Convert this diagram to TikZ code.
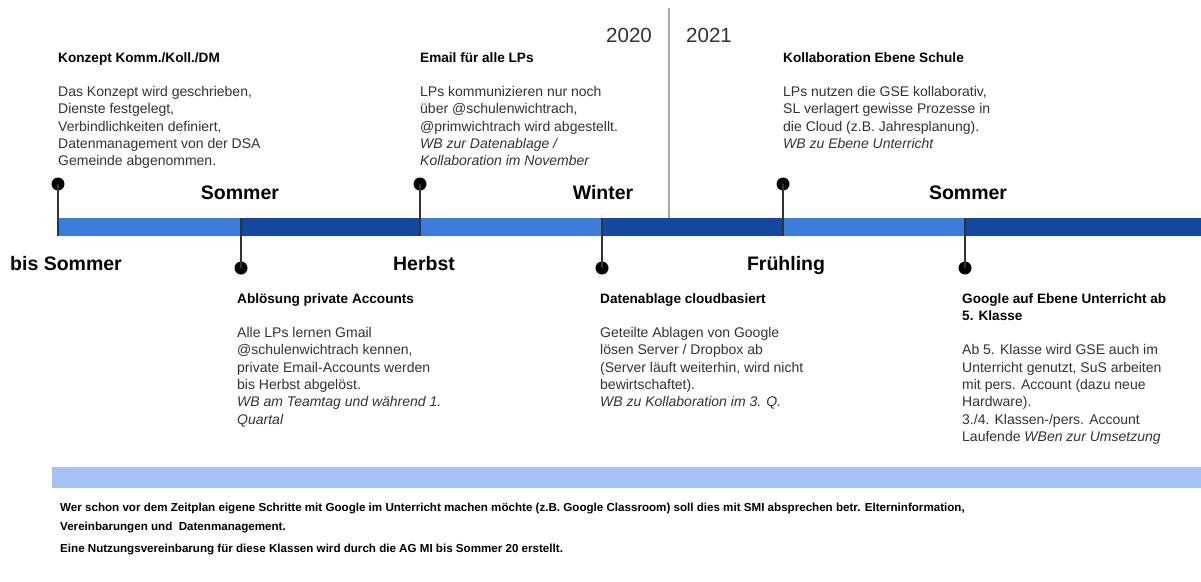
\documentclass[tikz,border=0pt]{standalone}
\usepackage{fontspec}
\setmainfont{Liberation Sans}
\definecolor{barlight}{HTML}{3B7DDD}
\definecolor{bardark}{HTML}{1348A0}
\definecolor{barpale}{HTML}{A4C2F4}
\definecolor{bodygray}{HTML}{333333}
\definecolor{divgray}{HTML}{A8A8A8}
\begin{document}
\begin{tikzpicture}[x=1pt,y=-1pt,
  blk/.style={anchor=north west,inner sep=0pt,align=left,text=bodygray,
    font=\fontsize{14}{17.3}\selectfont},
  ssn/.style={anchor=base,inner sep=0pt,font=\fontsize{19.5}{22}\selectfont\bfseries,text=black},
  yr/.style={inner sep=0pt,font=\fontsize{20.5}{22}\selectfont,text=bodygray},
  dotm/.style={circle,fill=black,inner sep=0pt,minimum size=13pt},
  stem/.style={draw=bodygray,line width=1.4pt},
  note/.style={anchor=north west,inner sep=0pt,align=left,text=black,
    font=\fontsize{11.6}{19.5}\selectfont\bfseries}]
\newcommand{\ttl}[1]{{\fontsize{13.6}{17.3}\selectfont\bfseries\color{black}#1}}
\useasboundingbox (0,0) rectangle (1201,581);
\fill[white] (0,0) rectangle (1201,581);
% main bar
\fill[barlight] (58,218) rectangle (241,236);
\fill[bardark] (241,218) rectangle (420,236);
\fill[barlight] (420,218) rectangle (602,236);
\fill[bardark] (602,218) rectangle (783,236);
\fill[barlight] (783,218) rectangle (965,236);
\fill[bardark] (965,218) rectangle (1201,236);
% pale bar
\fill[barpale] (52,467) rectangle (1201,488);
% year divider
\coordinate (ytop) at (669,8);
\coordinate (ybot) at (669,218);
\draw[divgray,line width=2pt] (ytop) -- (ybot);
\node[yr,anchor=base east] (y20) at (652,42) {2020};
\node[yr,anchor=base west] (y21) at (686,42) {2021};
% bar anchor coordinates
\coordinate (b1) at (58,236);
\coordinate (b2) at (241,218);
\coordinate (b3) at (420,236);
\coordinate (b4) at (602,218);
\coordinate (b5) at (783,236);
\coordinate (b6) at (965,218);
% dots
\node[dotm] (d1) at (58,184) {};
\node[dotm] (d2) at (241,268) {};
\node[dotm] (d3) at (420,184) {};
\node[dotm] (d4) at (602,268) {};
\node[dotm] (d5) at (783,184) {};
\node[dotm] (d6) at (965,268) {};
\draw[stem] (d1.center) -- (b1);
\draw[stem] (d2.center) -- (b2);
\draw[stem] (d3.center) -- (b3);
\draw[stem] (d4.center) -- (b4);
\draw[stem] (d5.center) -- (b5);
\draw[stem] (d6.center) -- (b6);
% seasons
\node[ssn] (s1) at (240,199) {Sommer};
\node[ssn] (s2) at (603,199) {Winter};
\node[ssn] (s3) at (968,199) {Sommer};
\node[ssn,anchor=base west] (s4) at (10,270) {bis Sommer};
\node[ssn] (s5) at (424,270) {Herbst};
\node[ssn] (s6) at (786,270) {Frühling};
% top blocks
\node[blk] (t1) at (58,52) {\ttl{Konzept Komm./Koll./DM}\\[17.3pt]
Das Konzept wird geschrieben,\\ Dienste festgelegt,\\ Verbindlichkeiten definiert,\\
Datenmanagement von der DSA\\ Gemeinde abgenommen.};
\node[blk] (t2) at (420,52) {\ttl{Email für alle LPs}\\[17.3pt]
LPs kommunizieren nur noch\\ über @schulenwichtrach,\\ @primwichtrach wird abgestellt.\\
\textit{WB zur Datenablage /}\\ \textit{Kollaboration im November}};
\node[blk] (t3) at (783,52) {\ttl{Kollaboration Ebene Schule}\\[17.3pt]
LPs nutzen die GSE kollaborativ,\\ SL verlagert gewisse Prozesse in\\
die Cloud (z.B. Jahresplanung).\\ \textit{WB zu Ebene Unterricht}};
% bottom blocks
\node[blk] (u1) at (237,293) {\ttl{Ablösung private Accounts}\\[17.3pt]
Alle LPs lernen Gmail\\ @schulenwichtrach kennen,\\ private Email-Accounts werden\\
bis Herbst abgelöst.\\ \textit{WB am Teamtag und während 1.}\\ \textit{Quartal}};
\node[blk] (u2) at (600,293) {\ttl{Datenablage cloudbasiert}\\[17.3pt]
Geteilte Ablagen von Google\\ lösen Server / Dropbox ab\\
(Server läuft weiterhin, wird nicht\\ bewirtschaftet).\\ \textit{WB zu Kollaboration im 3. Q.}};
\node[blk] (u3) at (962,293) {\ttl{Google auf Ebene Unterricht ab}\\ \ttl{5. Klasse}\\[17.3pt]
Ab 5. Klasse wird GSE auch im\\ Unterricht genutzt, SuS arbeiten\\ mit pers. Account (dazu neue\\
Hardware).\\ 3./4. Klassen-/pers. Account\\ Laufende \textit{WBen zur Umsetzung}};
% notes
\node[note] (n1) at (60,502.5) {Wer schon vor dem Zeitplan eigene Schritte mit Google im Unterricht machen möchte (z.B. Google Classroom) soll dies mit SMI absprechen betr. Elterninformation,\\
Vereinbarungen und \ Datenmanagement.};
\node[note] (n2) at (60,543.5) {Eine Nutzungsvereinbarung für diese Klassen wird durch die AG MI bis Sommer 20 erstellt.};
\end{tikzpicture}
\end{document}
